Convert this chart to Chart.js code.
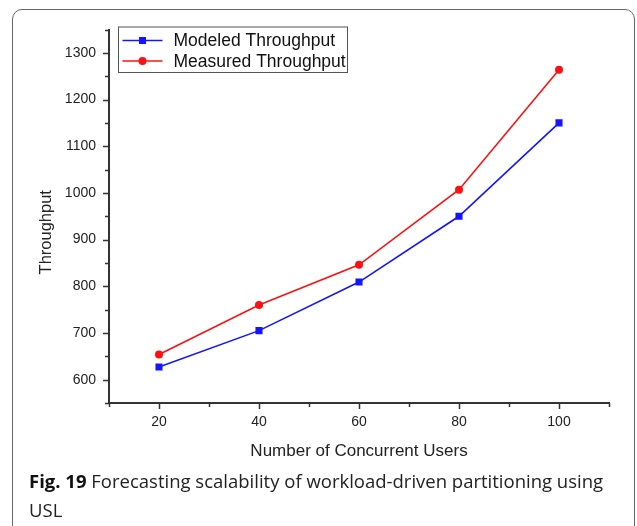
<!DOCTYPE html>
<html>
<head>
<meta charset="utf-8">
<script src="https://cdn.jsdelivr.net/npm/chart.js@4.4.1/dist/chart.umd.min.js"></script>
<style>
  html, body { margin: 0; padding: 0; background: #fff; overflow: hidden; }
  body { width: 637px; height: 526px; position: relative; }
  #panel { position: absolute; left: 12px; top: 9px; width: 623px; height: 560px;
           border: 1px solid #666; border-radius: 10px; box-sizing: border-box; }
  #wrap { position: absolute; left: 0; top: 0; width: 637px; height: 470px; }
  #caption { position: absolute; left: 29px; top: 466px; font-family: "Open Sans", sans-serif;
             font-size: 18.5px; line-height: 29px; color: #222; white-space: nowrap; }
  #caption b { font-weight: 700; color: #111; }
</style>
</head>
<body>
<div id="panel"></div>
<div id="wrap"><canvas id="c" width="637" height="470"></canvas></div>
<div id="caption"><b>Fig. 19</b> Forecasting scalability of workload-driven partitioning using<br>USL</div>
<script>
const users = [20, 40, 60, 80, 100];
const modeledThroughput = [627, 705, 809, 950, 1150];
const measuredThroughput = [654, 760, 846, 1007, 1264];
const seriesNames = ["Modeled Throughput", "Measured Throughput"];
const xTitle = "Number of Concurrent Users";
const yTitle = "Throughput";
const xRange = [10, 110];
const yRange = [550, 1350];
const yTickValues = [600, 700, 800, 900, 1000, 1100, 1200, 1300];

const BLUE = "#1414ff";
const RED = "#ff1010";
const AXIS = "#333";
const FONT = "'Liberation Sans', Arial, sans-serif";

function pts(xs, ys) { return xs.map((x, i) => ({ x: x, y: ys[i] })); }

const tickPlugin = {
  id: "originTicks",
  afterDraw(chart) {
    const ctx = chart.ctx;
    const xs = chart.scales.x, ys = chart.scales.y;
    const ca = chart.chartArea;
    ctx.save();
    ctx.strokeStyle = AXIS;
    ctx.lineWidth = 1.5;
    for (let v = xRange[0]; v <= xRange[1]; v += 10) {
      const px = Math.round(xs.getPixelForValue(v)) + 0.5;
      const len = (v % 20 === 0) ? 6 : 4;
      ctx.beginPath(); ctx.moveTo(px, ca.bottom); ctx.lineTo(px, ca.bottom + len); ctx.stroke();
    }
    for (let v = yRange[0]; v <= yRange[1]; v += 50) {
      const py = Math.round(ys.getPixelForValue(v)) + 0.5;
      const len = (v % 100 === 0) ? 6 : 4;
      ctx.beginPath(); ctx.moveTo(ca.left, py); ctx.lineTo(ca.left - len, py); ctx.stroke();
    }
    // y axis title
    ctx.fillStyle = "#222";
    ctx.font = "16.5px " + FONT;
    ctx.textAlign = "center"; ctx.textBaseline = "middle";
    ctx.translate(ca.left - 63, (ca.top + ca.bottom) / 2 + 16);
    ctx.rotate(-Math.PI / 2);
    ctx.fillText(yTitle, 0, 0);
    ctx.restore();

    // legend
    ctx.save();
    const lx = ca.left + 9.5, ly = ca.top - 2.5, lw = 229, lh = 45.5;
    ctx.strokeStyle = "#555"; ctx.lineWidth = 1;
    ctx.strokeRect(lx, ly, lw, lh);
    const rows = [ly + 13.5, ly + 34];
    chart.data.datasets.forEach((ds, i) => {
      const y = rows[i];
      ctx.strokeStyle = ds.borderColor; ctx.lineWidth = 1.5;
      ctx.beginPath(); ctx.moveTo(lx + 4, y); ctx.lineTo(lx + 44, y); ctx.stroke();
      ctx.fillStyle = ds.borderColor;
      if (ds.pointStyle === "rect") {
        ctx.fillRect(lx + 24 - 3.5, y - 3.5, 7, 7);
      } else {
        ctx.beginPath(); ctx.arc(lx + 24, y, 4, 0, Math.PI * 2); ctx.fill();
      }
      ctx.fillStyle = "#111";
      ctx.font = "17.5px " + FONT;
      ctx.textAlign = "left"; ctx.textBaseline = "middle";
      ctx.fillText(ds.label, lx + 55, y + 1);
    });
    ctx.restore();
  }
};

new Chart(document.getElementById("c"), {
  type: "line",
  data: {
    datasets: [
      { label: seriesNames[0], data: pts(users, modeledThroughput), borderColor: BLUE, backgroundColor: BLUE,
        borderWidth: 1.6, pointStyle: "rect", pointRadius: 5, pointBorderWidth: 0, tension: 0 },
      { label: seriesNames[1], data: pts(users, measuredThroughput), borderColor: RED, backgroundColor: RED,
        borderWidth: 1.6, pointStyle: "circle", pointRadius: 4, pointBorderWidth: 0, tension: 0 }
    ]
  },
  options: {
    responsive: false,
    animation: false,
    events: [],
    layout: { padding: { left: 0, right: 28, top: 29.5, bottom: 0 } },
    plugins: { legend: { display: false }, tooltip: { enabled: false } },
    scales: {
      x: {
        type: "linear", min: xRange[0], max: xRange[1],
        afterBuildTicks(s) { s.ticks = users.map(v => ({ value: v })); },
        afterFit(s) { s.height = 67; },
        grid: { display: false, drawTicks: false },
        border: { display: true, color: AXIS, width: 2 },
        ticks: { padding: 11, color: "#222", font: { family: FONT, size: 14 }, maxRotation: 0,
                 callback: v => String(v) },
        title: { display: true, text: xTitle, color: "#222", padding: { top: 0, bottom: 8 },
                 font: { family: FONT, size: 17 } }
      },
      y: {
        type: "linear", min: yRange[0], max: yRange[1],
        afterBuildTicks(s) { s.ticks = yTickValues.map(v => ({ value: v })); },
        afterFit(s) { s.width = 109; },
        grid: { display: false, drawTicks: false },
        border: { display: true, color: AXIS, width: 2 },
        ticks: { padding: 13, color: "#222", font: { family: FONT, size: 14 },
                 callback: v => String(v) }
      }
    }
  },
  plugins: [tickPlugin]
});
</script>
</body>
</html>
